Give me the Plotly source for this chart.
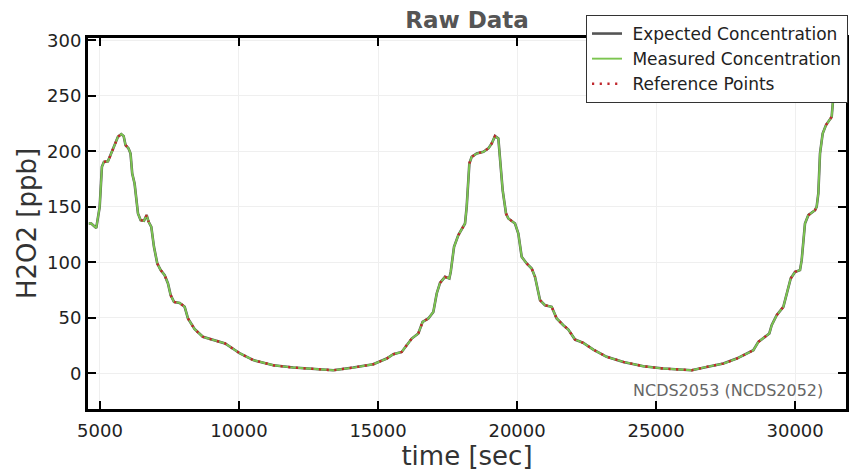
import plotly.graph_objects as go

# ---- data ----
time_sec = [4600, 4687, 4867, 4990, 5070, 5144, 5288, 5384, 5528, 5647, 5767, 5852,
            5920, 6028, 6100, 6160, 6245, 6367, 6463, 6583, 6679, 6751, 6846, 6942,
            7062, 7183, 7327, 7446, 7542, 7662, 7866, 8046, 8165, 8400, 8700, 9100,
            9500, 9800, 10036, 10515, 11234, 11953, 12673, 13392, 14112, 14831, 15311,
            15550, 15852, 16032, 16212, 16449, 16604, 16810, 16989, 17111, 17230, 17410,
            17564, 17614, 17734, 17889, 18129, 18189, 18285, 18369, 18549, 18789, 18968,
            19088, 19207, 19327, 19387, 19482, 19603, 19687, 19927, 20046, 20166, 20346,
            20526, 20645, 20825, 21005, 21245, 21425, 21664, 21844, 22084, 22384, 22743,
            23223, 23822, 24542, 25261, 25861, 26281, 26820, 27419, 27899, 28259, 28498,
            28678, 28918, 29073, 29157, 29337, 29577, 29697, 29841, 29997, 30176, 30236,
            30355, 30475, 30715, 30775, 30835, 30895, 30991, 31110, 31315, 31374, 31400,
            31450]
expected_ppb = [135, 135, 131, 150, 186, 190.5, 191, 196.6, 205.6, 213, 215.5, 213.7,
                205.6, 202.6, 198, 180, 171, 144, 138, 137.4, 142.5, 136.5, 132, 114,
                99, 93, 88.5, 81, 70.5, 64.4, 63.5, 60, 49.5, 40, 33, 30,
                27, 22, 18, 12, 7.4, 5.3, 3.8, 2.9, 5.3, 8.3, 13.4,
                17.3, 19.4, 25.4, 31.4, 36, 46.4, 49.5, 55.4, 72, 81.5, 87,
                85.5, 91.4, 114, 124.5, 135, 150, 189, 195, 198, 199.5, 202.6,
                207, 213.7, 211.6, 192, 165, 144, 139.5, 135, 126, 105, 99,
                94.5, 87, 66, 61.4, 60, 49.5, 43.4, 39.5, 30.5, 27.5, 21.5,
                15, 10.4, 6.5, 4.4, 3.8, 2.9, 5.9, 8.9, 13.4, 17.9, 20.9,
                28.4, 32.9, 36, 43.4, 52.4, 60, 72, 85.5, 91.4, 93, 102,
                135, 142.5, 147, 150, 162, 198, 216, 223.6, 231, 249, 288,
                320]
measured_ppb = list(expected_ppb)

# time windows in which reference points were taken
ref_windows = [(5144, 5852), (5920, 6028), (6463, 6751), (7062, 7446), (7542, 8046),
               (8165, 16212), (16449, 16810), (17230, 17564), (17889, 18129),
               (18285, 19327), (19603, 19927), (20346, 20645), (20825, 28498),
               (28558, 29073), (29337, 29577), (29841, 30176), (30475, 30775),
               (31110, 31315)]

x_ticks = [5000, 10000, 15000, 20000, 25000, 30000]
y_ticks = [0, 50, 100, 150, 200, 250, 300]

ref_t, ref_v = [], []
for lo, hi in ref_windows:
    for t, v in zip(time_sec, expected_ppb):
        if lo <= t <= hi:
            ref_t.append(t)
            ref_v.append(v)
    ref_t.append(None)
    ref_v.append(None)

FONT = "DejaVu Sans"
NB = "\u00a0"

fig = go.Figure()
fig.add_trace(go.Scatter(x=time_sec, y=expected_ppb, mode="lines",
                         name=NB + "Expected Concentration",
                         line=dict(color="#555555", width=2.6)))
fig.add_trace(go.Scatter(x=time_sec, y=measured_ppb, mode="lines",
                         name=NB + "Measured Concentration",
                         line=dict(color="#7cc550", width=1.9)))
fig.add_trace(go.Scatter(x=ref_t, y=ref_v, mode="lines",
                         name=NB + "Reference Points", connectgaps=False,
                         line=dict(color="#c0272d", width=2.4, dash="2.2px,5.5px")))

axis_common = dict(
    showline=True, linewidth=3, linecolor="black", mirror="ticks",
    ticks="inside", ticklen=8, tickwidth=2, tickcolor="black",
    showgrid=True, gridcolor="#efefef", gridwidth=1, zeroline=False,
    tickfont=dict(family=FONT, size=18, color="#222222"),
)

fig.update_layout(
    width=860, height=472,
    margin=dict(l=88, r=14, t=38, b=63, autoexpand=False),
    paper_bgcolor="white", plot_bgcolor="white",
    font=dict(family=FONT, color="#222222"),
    title=dict(text="<b>Raw Data</b>", x=0.5, xref="paper", y=1 - 20 / 472,
               yref="container", xanchor="center", yanchor="middle",
               font=dict(family=FONT, size=23, color="#555555")),
    xaxis=dict(range=[4570, 31830], tickvals=x_ticks,
               ticktext=[str(v) for v in x_ticks], ticklabelstandoff=3,
               title=dict(text="time [sec]", standoff=6,
                          font=dict(family=FONT, size=26, color="#333333")),
               **axis_common),
    yaxis=dict(range=[-32, 302], tickvals=y_ticks,
               ticktext=[str(v) for v in y_ticks],
               title=dict(text="H2O2 [ppb]", standoff=3,
                          font=dict(family=FONT, size=26, color="#333333")),
               **axis_common),
    legend=dict(x=(586 - 88) / 758, y=(409 - 15) / 371, xanchor="left", yanchor="top",
                bgcolor="white", bordercolor="#333333", borderwidth=1,
                font=dict(family=FONT, size=17, color="#222222"),
                tracegroupgap=0),
    showlegend=True,
)

fig.add_annotation(text="NCDS2053 (NCDS2052)", xref="paper", yref="paper",
                   x=(825 - 88) / 758, y=(409 - 390) / 371, xanchor="right",
                   yanchor="middle", showarrow=False,
                   font=dict(family=FONT, size=16, color="#666666"))

fig.write_html("out.html")
